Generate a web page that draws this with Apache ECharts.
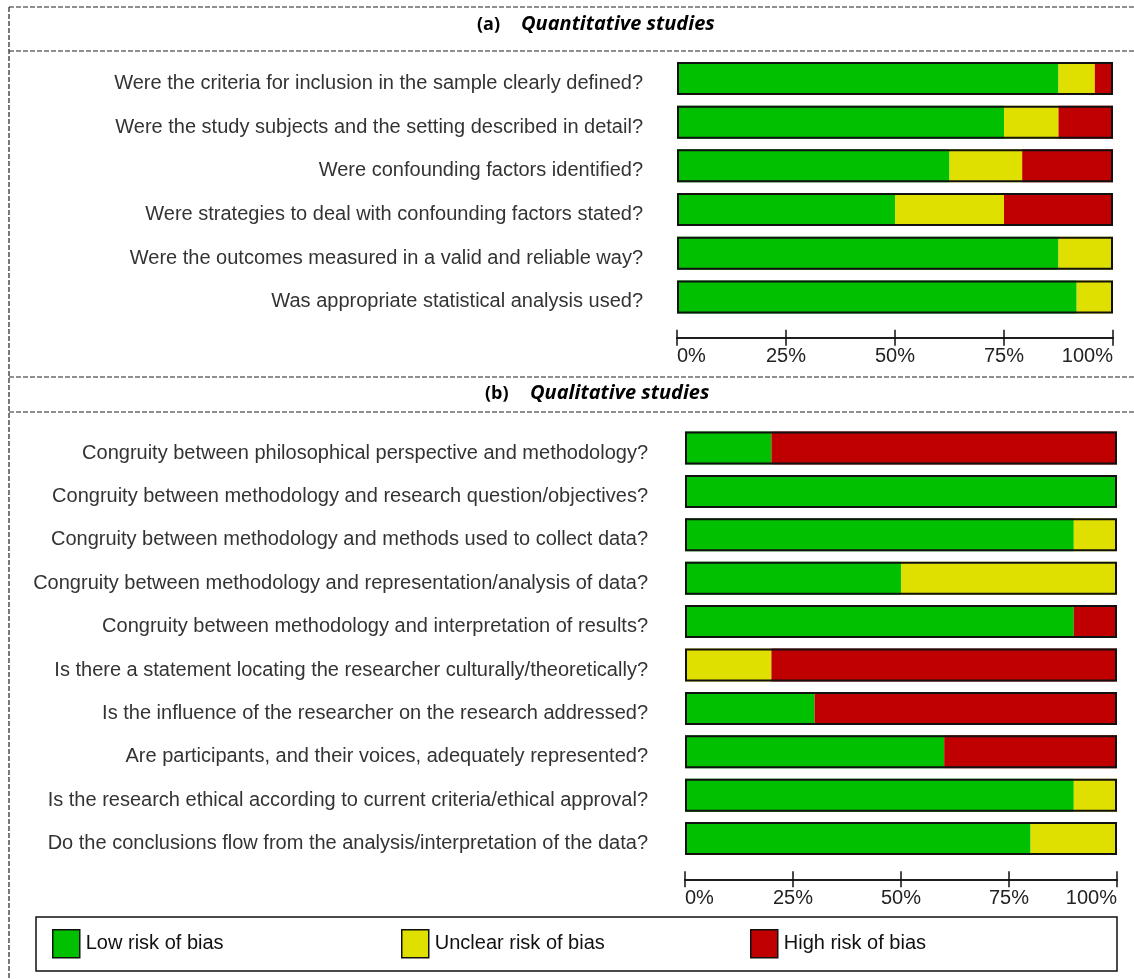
<!DOCTYPE html>
<html>
<head>
<meta charset="utf-8">
<script src="https://cdn.jsdelivr.net/npm/echarts@6/dist/echarts.min.js"></script>
<style>
html,body{margin:0;padding:0;background:#fff;}
#chart{width:1134px;height:979px;}
</style>
</head>
<body>
<div id="chart"></div>
<script>
// ---------- DATA ----------
const seriesNames = ['Low risk of bias', 'Unclear risk of bias', 'High risk of bias'];
const colors = ['#00C000', '#E0E000', '#C00000'];

const quantCategories = [
  'Were the criteria for inclusion in the sample clearly defined?',
  'Were the study subjects and the setting described in detail?',
  'Were confounding factors identified?',
  'Were strategies to deal with confounding factors stated?',
  'Were the outcomes measured in a valid and reliable way?',
  'Was appropriate statistical analysis used?'
];
const quantLow     = [87.5, 75,   62.5,  50, 87.5, 91.67];
const quantUnclear = [8.33, 12.5, 16.67, 25, 12.5, 8.33];
const quantHigh    = [4.17, 12.5, 20.83, 25, 0,    0];

const qualCategories = [
  'Congruity between philosophical perspective and methodology?',
  'Congruity between methodology and research question/objectives?',
  'Congruity between methodology and methods used to collect data?',
  'Congruity between methodology and representation/analysis of data?',
  'Congruity between methodology and interpretation of results?',
  'Is there a statement locating the researcher culturally/theoretically?',
  'Is the influence of the researcher on the research addressed?',
  'Are participants, and their voices, adequately represented?',
  'Is the research ethical according to current criteria/ethical approval?',
  'Do the conclusions flow from the analysis/interpretation of the data?'
];
const qualLow     = [20, 100, 90, 50, 90, 0,  30, 60, 90, 80];
const qualUnclear = [0,  0,   10, 50, 0,  20, 0,  0,  10, 20];
const qualHigh    = [80, 0,   0,  0,  10, 80, 70, 40, 0,  0];

const xTicks = [0, 25, 50, 75, 100];

// ---------- BUILD ----------
const chart = echarts.init(document.getElementById('chart'), null, {renderer: 'canvas'});

const labelFont = {fontFamily: 'Liberation Sans, Arial, sans-serif', fontSize: 20, color: '#333'};

function totals(a, b, c) { return a.map((v, i) => v + b[i] + c[i]); }

function xAxes(gridIndex) {
  const base = {
    type: 'value', gridIndex: gridIndex, min: xTicks[0], max: xTicks[xTicks.length - 1],
    interval: xTicks[1] - xTicks[0], position: 'bottom', offset: 19,
    splitLine: {show: false},
    axisLine: {show: true, lineStyle: {color: '#111', width: 1.5}}
  };
  return [
    Object.assign({}, base, {
      axisTick: {show: true, length: 8, lineStyle: {color: '#111', width: 1.5}},
      axisLabel: Object.assign({}, labelFont, {color: '#222', margin: 9, formatter: '{value}%',
        alignMinLabel: 'left', alignMaxLabel: 'right'})
    }),
    Object.assign({}, base, {
      axisTick: {show: true, inside: true, length: 8, lineStyle: {color: '#111', width: 1.5}},
      axisLabel: {show: false}
    })
  ];
}

function yAxis(gridIndex, cats, margin) {
  return {
    type: 'category', gridIndex: gridIndex, data: cats, inverse: true,
    axisLine: {show: false}, axisTick: {show: false}, splitLine: {show: false},
    axisLabel: Object.assign({}, labelFont, {margin: margin, verticalAlign: 'top', lineHeight: 10})
  };
}

function panelSeries(xIdx, yIdx, low, unclear, high, stackName) {
  const vals = [low, unclear, high];
  const arr = vals.map((d, k) => ({
    name: seriesNames[k], type: 'bar', stack: stackName,
    xAxisIndex: xIdx, yAxisIndex: yIdx, data: d, barWidth: 33,
    itemStyle: {color: colors[k]}, silent: true, animation: false
  }));
  arr.push({
    name: 'outline-' + stackName, type: 'bar', xAxisIndex: xIdx, yAxisIndex: yIdx,
    data: totals(low, unclear, high), barWidth: 33, barGap: '-100%', z: 5,
    itemStyle: {color: 'rgba(0,0,0,0)', borderColor: '#111', borderWidth: 2},
    silent: true, animation: false
  });
  return arr;
}

function dash(x1, y1, x2, y2) {
  return {type: 'line', shape: {x1: x1, y1: y1, x2: x2, y2: y2}, silent: true,
    style: {stroke: '#222', lineWidth: 1.2, lineDash: [5, 2]}};
}

const tagStyle = {fontFamily: 'Open Sans, sans-serif', fontWeight: 'bold', fontSize: 18, color: '#000'};
const headStyle = {fontFamily: 'Open Sans, sans-serif', fontWeight: 'bold', fontStyle: 'italic', fontSize: 20, color: '#000'};

function legendAt(name, left) {
  return {
    data: [name], left: left, top: 929, padding: 0, itemWidth: 27, itemHeight: 28, itemGap: 0,
    icon: 'rect', selectedMode: false,
    itemStyle: {borderColor: '#111', borderWidth: 1.5},
    textStyle: Object.assign({}, labelFont, {color: '#111', padding: [2, 0, 0, 1]})
  };
}

const option = {
  backgroundColor: '#fff',
  animation: false,
  title: [
    {text: '(a)', left: 477, top: 16, padding: 0, textStyle: tagStyle},
    {text: 'Quantitative studies', left: 521, top: 14, padding: 0, textStyle: headStyle},
    {text: '(b)', left: 485, top: 385, padding: 0, textStyle: tagStyle},
    {text: 'Qualitative studies', left: 530, top: 383, padding: 0, textStyle: headStyle}
  ],
  legend: [
    legendAt(seriesNames[0], 52),
    legendAt(seriesNames[1], 401),
    legendAt(seriesNames[2], 750)
  ],
  grid: [
    {left: 677, right: 21, top: 56.6, height: 262.2, containLabel: false},
    {left: 685, right: 17, top: 426.3, height: 434, containLabel: false}
  ],
  xAxis: xAxes(0).concat(xAxes(1)),
  yAxis: [yAxis(0, quantCategories, 34), yAxis(1, qualCategories, 37)],
  series: panelSeries(0, 0, quantLow, quantUnclear, quantHigh, 'a')
    .concat(panelSeries(2, 1, qualLow, qualUnclear, qualHigh, 'b')),
  graphic: [
    dash(9, 7, 1134, 7),
    dash(9, 51, 1134, 51),
    dash(9, 377, 1134, 377),
    dash(9, 412, 1134, 412),
    dash(9, 7, 9, 979),
    {type: 'rect', shape: {x: 36, y: 917, width: 1081, height: 54}, silent: true, z: -1,
      style: {fill: '#fff', stroke: '#111', lineWidth: 1.5}}
  ]
};

chart.setOption(option);
</script>
</body>
</html>
